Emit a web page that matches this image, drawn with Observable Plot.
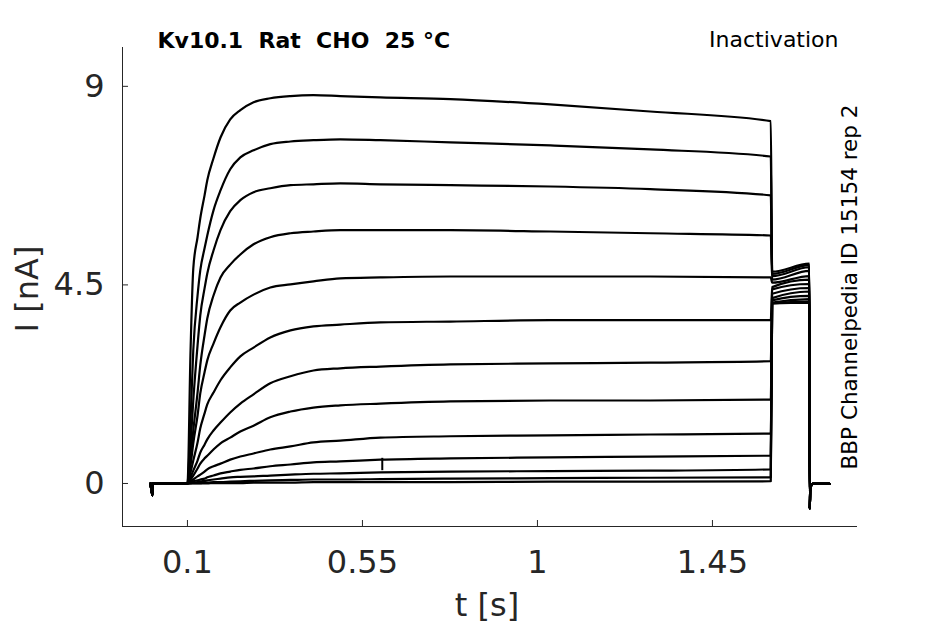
<!DOCTYPE html>
<html><head><meta charset="utf-8">
<script src="https://cdn.jsdelivr.net/npm/d3@7"></script>
<script src="https://cdn.jsdelivr.net/npm/@observablehq/plot@0.6"></script>
<style>body{margin:0;background:#fff;} svg{display:block}</style>
</head><body><div id="chart"></div>
<script>
// Test-pulse sample times (s)
const time = [0.1, 0.108, 0.115, 0.126, 0.133, 0.144, 0.151, 0.167, 0.185, 0.21, 0.236, 0.27, 0.313, 0.365, 0.424, 0.493, 0.596, 0.776, 1.033, 1.29, 1.6];
// Current sweeps (nA) at those times
const sweep01 = [0, 3.02, 4.87, 5.58, 6.01, 6.53, 6.87, 7.37, 7.84, 8.25, 8.46, 8.64, 8.73, 8.78, 8.80, 8.78, 8.75, 8.71, 8.59, 8.43, 8.21];
const sweep02 = [0, 1.43, 3.02, 4.26, 4.83, 5.33, 5.62, 6.19, 6.64, 7.12, 7.39, 7.55, 7.69, 7.75, 7.78, 7.80, 7.78, 7.73, 7.66, 7.57, 7.41];
const sweep03 = [0, 0.86, 1.88, 3.13, 3.81, 4.42, 4.76, 5.28, 5.74, 6.17, 6.42, 6.60, 6.69, 6.76, 6.78, 6.80, 6.78, 6.76, 6.73, 6.67, 6.53];
const sweep04 = [0, 0.57, 1.20, 2.06, 2.68, 3.36, 3.74, 4.26, 4.67, 4.96, 5.19, 5.42, 5.58, 5.67, 5.71, 5.74, 5.74, 5.74, 5.71, 5.67, 5.62];
const sweep05 = [0, 0.41, 0.91, 1.54, 2.04, 2.52, 2.79, 3.17, 3.54, 3.92, 4.10, 4.28, 4.44, 4.51, 4.58, 4.65, 4.67, 4.69, 4.69, 4.69, 4.67];
const sweep06 = [0, 0.25, 0.52, 0.93, 1.25, 1.59, 1.79, 2.06, 2.34, 2.63, 2.88, 3.08, 3.31, 3.47, 3.56, 3.60, 3.65, 3.67, 3.70, 3.70, 3.70];
const sweep07 = [0, 0.14, 0.29, 0.52, 0.70, 0.88, 1.00, 1.20, 1.38, 1.61, 1.81, 2.02, 2.27, 2.43, 2.56, 2.61, 2.65, 2.70, 2.72, 2.74, 2.77];
const sweep08 = [0, 0.09, 0.18, 0.34, 0.45, 0.57, 0.63, 0.77, 0.91, 1.04, 1.18, 1.31, 1.50, 1.63, 1.72, 1.77, 1.81, 1.86, 1.88, 1.88, 1.90];
const sweep09 = [0, 0.05, 0.09, 0.16, 0.20, 0.27, 0.32, 0.39, 0.45, 0.54, 0.61, 0.68, 0.77, 0.84, 0.93, 0.97, 1.04, 1.07, 1.09, 1.11, 1.13];
const sweep10 = [0, 0.02, 0.05, 0.07, 0.09, 0.11, 0.14, 0.18, 0.23, 0.27, 0.31, 0.34, 0.39, 0.43, 0.48, 0.50, 0.54, 0.57, 0.59, 0.61, 0.63];
const sweep11 = [0, 0.01, 0.02, 0.03, 0.05, 0.06, 0.07, 0.09, 0.11, 0.14, 0.15, 0.16, 0.18, 0.20, 0.22, 0.23, 0.25, 0.27, 0.28, 0.29, 0.32];
const sweep12 = [0, 0, 0.01, 0.01, 0.01, 0.02, 0.02, 0.03, 0.03, 0.04, 0.05, 0.06, 0.07, 0.08, 0.09, 0.09, 0.10, 0.11, 0.12, 0.13, 0.14];
const sweep13 = [0, 0, 0, 0, 0, 0, 0, 0.01, 0.01, 0.01, 0.01, 0.02, 0.02, 0.02, 0.03, 0.03, 0.03, 0.03, 0.04, 0.04, 0.05];
// Tail currents (nA) at start/end of the tail step, one per sweep
const tailTime = [1.6036, 1.6993];
const tailStart = [4.80, 4.75, 4.70, 4.62, 4.55, 4.45, 4.40, 4.30, 4.20, 4.15, 4.10, 4.08, 4.08];
const tailEnd   = [4.98, 4.95, 4.90, 4.82, 4.70, 4.62, 4.52, 4.43, 4.35, 4.25, 4.18, 4.12, 4.10];
// Holding segment before the pulse, and return to holding after the tail
const preTime = [0.005, 0.0099, 0.0101, 0.0995];
const preCurrent = [0, -0.27, 0, 0];
const postTime = [1.7003, 1.7015, 1.708, 1.7508];
const postCurrent = [-0.57, -0.12, -0.01, -0.01];
// Glitch in one sweep
const glitchTime = [0.601];
const glitchLow = [0.29];
const glitchHigh = [0.57];
// Axes
const xTicks = [0.1, 0.55, 1, 1.45];
const yTicks = [0, 4.5, 9];
const xDomain = [-0.067, 1.823];
const yDomain = [-0.975, 9.88];

const sweeps = [sweep01, sweep02, sweep03, sweep04, sweep05, sweep06, sweep07, sweep08, sweep09, sweep10, sweep11, sweep12, sweep13];
const rows = [];
sweeps.forEach((s, k) => {
  preTime.forEach((t, i) => rows.push({sweep: k, t, I: preCurrent[i]}));
  time.forEach((t, i) => rows.push({sweep: k, t, I: s[i]}));
  rows.push({sweep: k, t: tailTime[0], I: tailStart[k]});
  rows.push({sweep: k, t: tailTime[1], I: tailEnd[k]});
  postTime.forEach((t, i) => rows.push({sweep: k, t, I: postCurrent[i]}));
});

const ink = "#262626";
const font = "DejaVu Sans";
const chart = Plot.plot({
  width: 945, height: 624,
  marginLeft: 122, marginRight: 88, marginTop: 47, marginBottom: 98,
  style: {fontFamily: font, background: "#fff"},
  x: {domain: xDomain, axis: null},
  y: {domain: yDomain, axis: null},
  marks: [
    Plot.line(rows, {x: "t", y: "I", z: "sweep", stroke: "black", strokeWidth: 2.2, curve: "monotone-x"}),
    Plot.ruleX(glitchTime, {x: d => d, y1: (d, i) => glitchLow[i], y2: (d, i) => glitchHigh[i], stroke: "black", strokeWidth: 2}),
    Plot.ruleX([xDomain[0]], {stroke: ink, strokeWidth: 1}),
    Plot.ruleY([yDomain[0]], {stroke: ink, strokeWidth: 1}),
    Plot.tickX(xTicks, {x: d => d, insetTop: 473, stroke: ink}),
    Plot.tickY(yTicks, {y: d => d, insetRight: 729, stroke: ink}),
    Plot.axisX(xTicks, {tickSize: 0, tickPadding: 24, fontSize: 32, fill: ink, label: null, tickFormat: d => String(d)}),
    Plot.axisY(yTicks, {tickSize: 0, tickPadding: 18, fontSize: 32, fill: ink, label: null, tickFormat: d => String(d)}),
    Plot.text(["t [s]"], {text: d => d, frameAnchor: "bottom", textAnchor: "middle", dy: 79, dx: -3, lineAnchor: "middle", fontSize: 32, fill: ink}),
    Plot.text(["I [nA]"], {text: d => d, frameAnchor: "left", textAnchor: "middle", rotate: -90, dx: -95, dy: 2, lineAnchor: "middle", fontSize: 32, fill: ink}),
    Plot.text(["Kv10.1  Rat  CHO  25 °C"], {text: d => d, frameAnchor: "top-left", textAnchor: "start", lineAnchor: "middle", dx: 35, dy: -7, fontSize: 22, fontWeight: "bold", fill: "black"}),
    Plot.text(["Inactivation"], {text: d => d, frameAnchor: "top-right", textAnchor: "end", lineAnchor: "middle", dx: -19, dy: -8, fontSize: 22, fill: "black"}),
    Plot.text(["BBP Channelpedia ID 15154 rep 2"], {text: d => d, frameAnchor: "right", textAnchor: "middle", rotate: -90, dx: -7, lineAnchor: "middle", fontSize: 21.5, fill: "black"})
  ]
});
document.getElementById("chart").appendChild(chart);
</script>
</body></html>
